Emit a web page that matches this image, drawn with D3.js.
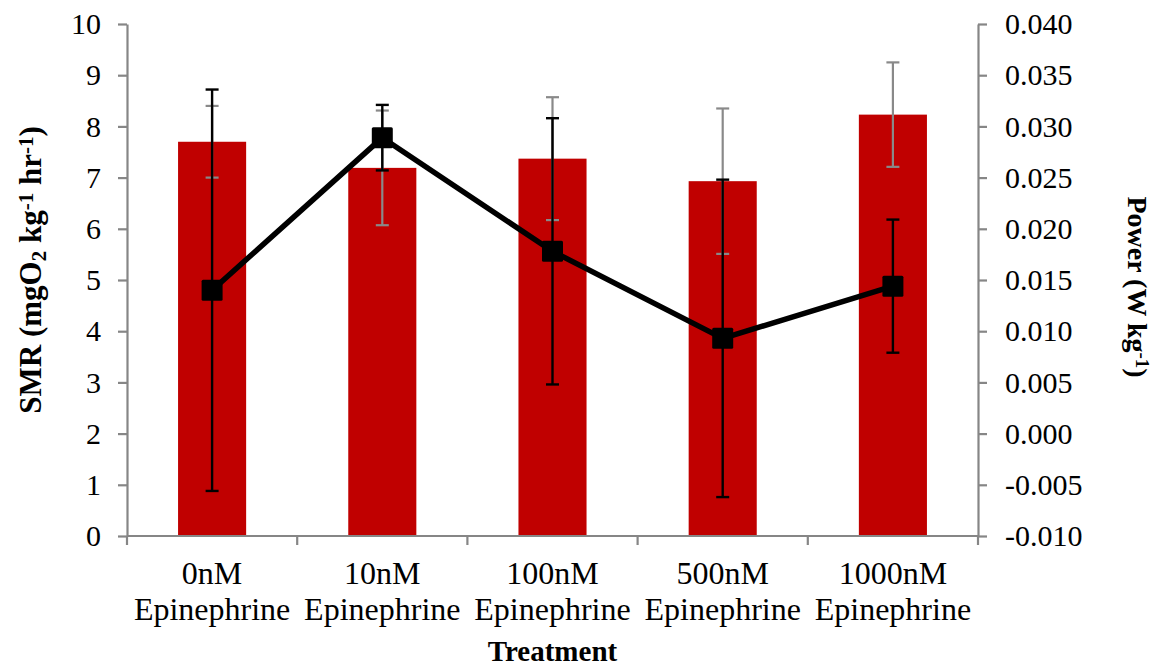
<!DOCTYPE html>
<html>
<head>
<meta charset="utf-8">
<script src="https://cdn.jsdelivr.net/npm/d3@7"></script>
<style>
  body { margin: 0; background: #fff; }
  svg { display: block; font-family: "Liberation Serif", "Times New Roman", serif; }
</style>
</head>
<body>
<div id="chart"></div>
<script>
// Data
const categories = ["0nM Epinephrine", "10nM Epinephrine", "100nM Epinephrine", "500nM Epinephrine", "1000nM Epinephrine"];
const smr = [7.70, 7.19, 7.37, 6.93, 8.23];
const smrErr = [0.70, 1.12, 1.20, 1.42, 1.02];
const power = [0.0140, 0.0289, 0.0178, 0.0093, 0.0144];
const powerErr = [0.0196, 0.0032, 0.0130, 0.0155, 0.0065];
const leftTicks = [0, 1, 2, 3, 4, 5, 6, 7, 8, 9, 10];
const rightTicks = [-0.010, -0.005, 0.000, 0.005, 0.010, 0.015, 0.020, 0.025, 0.030, 0.035, 0.040];

drawChart();

function drawChart() {
  let W = 1157, H = 666;
  let left = 127, right = 978, top = 24, bottom = 536;

  let axisColor = "#868686";
  let barColor = "#c00000";

  let svg = d3.select("#chart").append("svg")
    .attr("width", W)
    .attr("height", H);

  // Scales
  let x = d3.scaleBand().domain(categories).range([left, right]).padding(0);
  let yL = d3.scaleLinear().domain([0, 10]).range([bottom, top]);
  let yR = d3.scaleLinear().domain([-0.010, 0.040]).range([bottom, top]);
  let barW = x.bandwidth() / 2.5;
  let cx = function (c) { return x(c) + x.bandwidth() / 2; };

  // Bars
  svg.selectAll(".bar")
    .data(categories)
    .enter()
    .append("rect")
    .attr("x", function (d) { return cx(d) - barW / 2; })
    .attr("y", function (d, i) { return yL(smr[i]); })
    .attr("width", barW)
    .attr("height", function (d, i) { return bottom - yL(smr[i]); })
    .attr("fill", barColor);

  // Error bars (bars, gray)
  drawErr(categories.map(function (c, i) {
    return { x: cx(c), hi: yL(smr[i] + smrErr[i]), lo: yL(smr[i] - smrErr[i]) };
  }), "#898989", 2.2);

  // Left axis
  svg.append("g")
    .attr("transform", "translate(" + left + ",0)")
    .call(d3.axisLeft(yL).tickValues(leftTicks).tickSize(9).tickSizeOuter(0).tickPadding(17)
      .tickFormat(function (d) { return String(d); }))
    .call(styleAxis);

  // Right axis
  svg.append("g")
    .attr("transform", "translate(" + right + ",0)")
    .call(d3.axisRight(yR).tickValues(rightTicks).tickSize(9).tickSizeOuter(0).tickPadding(18)
      .tickFormat(function (d) { return (Math.abs(d) < 1e-9 ? 0 : d).toFixed(3); }))
    .call(styleAxis);

  // Bottom axis with ticks on category boundaries
  svg.append("line")
    .attr("x1", left).attr("x2", right)
    .attr("y1", bottom).attr("y2", bottom)
    .attr("stroke", axisColor).attr("stroke-width", 2.2);
  let bounds = categories.map(function (c) { return x(c); }).concat([x.range()[1]]);
  svg.selectAll(".xtick")
    .data(bounds)
    .enter()
    .append("line")
    .attr("x1", function (d) { return d; }).attr("x2", function (d) { return d; })
    .attr("y1", bottom).attr("y2", bottom + 9)
    .attr("stroke", axisColor).attr("stroke-width", 2.2);

  let labels = svg.selectAll(".xlab")
    .data(categories)
    .enter()
    .append("text")
    .attr("text-anchor", "middle")
    .style("font-size", "32px")
    .style("fill", "#000");
  labels.append("tspan")
    .attr("x", function (d) { return cx(d); })
    .attr("y", 584)
    .text(function (d) { return d.split(" ")[0]; });
  labels.append("tspan")
    .attr("x", function (d) { return cx(d); })
    .attr("y", 620)
    .text(function (d) { return d.split(" ")[1]; });

  // Power line
  let line = d3.line()
    .x(function (d, i) { return cx(categories[i]); })
    .y(function (d) { return yR(d); });
  svg.append("path")
    .datum(power)
    .attr("d", line)
    .attr("fill", "none")
    .attr("stroke", "#000")
    .attr("stroke-width", 5.5)
    .attr("stroke-linejoin", "round");

  // Error bars (line, black)
  drawErr(categories.map(function (c, i) {
    return { x: cx(c), hi: yR(power[i] + powerErr[i]), lo: yR(power[i] - powerErr[i]) };
  }), "#000", 2.4);

  // Markers
  let ms = 21;
  svg.selectAll(".marker")
    .data(power)
    .enter()
    .append("rect")
    .attr("x", function (d, i) { return cx(categories[i]) - ms / 2; })
    .attr("y", function (d) { return yR(d) - ms / 2; })
    .attr("width", ms)
    .attr("height", ms)
    .attr("rx", 1.5)
    .attr("fill", "#000");

  // Axis titles
  let lt = svg.append("text")
    .attr("transform", "translate(41," + 270 + ") rotate(-90)")
    .attr("text-anchor", "middle")
    .style("font-size", "31px")
    .style("font-weight", "700");
  lt.append("tspan").text("SMR (mgO");
  lt.append("tspan").attr("baseline-shift", "-25%").style("font-size", "21px").text("2");
  lt.append("tspan").text(" kg");
  lt.append("tspan").attr("baseline-shift", "40%").style("font-size", "21px").text("-1");
  lt.append("tspan").text(" hr");
  lt.append("tspan").attr("baseline-shift", "40%").style("font-size", "21px").text("-1");
  lt.append("tspan").text(")");

  let rt = svg.append("text")
    .attr("transform", "translate(1128," + 287 + ") rotate(90)")
    .attr("text-anchor", "middle")
    .style("font-size", "28px")
    .style("font-weight", "700");
  rt.append("tspan").text("Power (W kg");
  rt.append("tspan").attr("baseline-shift", "40%").style("font-size", "19px").text("-1");
  rt.append("tspan").text(")");

  svg.append("text")
    .attr("x", (left + right) / 2)
    .attr("y", 661)
    .attr("text-anchor", "middle")
    .style("font-size", "29px")
    .style("font-weight", "700")
    .text("Treatment");

  function styleAxis(g) {
    g.select(".domain").attr("stroke", axisColor).attr("stroke-width", 2.2);
    g.selectAll(".tick line").attr("stroke", axisColor).attr("stroke-width", 2.2);
    g.selectAll(".tick text")
      .style("font-size", "30px")
      .style("font-family", "'Liberation Serif', serif")
      .style("fill", "#000");
  }

  function drawErr(data, color, sw) {
    let cap = 13;
    let g = svg.append("g").attr("stroke", color).attr("stroke-width", sw);
    g.selectAll(".v").data(data).enter().append("line")
      .attr("x1", function (d) { return d.x; }).attr("x2", function (d) { return d.x; })
      .attr("y1", function (d) { return d.hi; }).attr("y2", function (d) { return d.lo; });
    g.selectAll(".t").data(data).enter().append("line")
      .attr("x1", function (d) { return d.x - cap / 2; }).attr("x2", function (d) { return d.x + cap / 2; })
      .attr("y1", function (d) { return d.hi; }).attr("y2", function (d) { return d.hi; });
    g.selectAll(".b").data(data).enter().append("line")
      .attr("x1", function (d) { return d.x - cap / 2; }).attr("x2", function (d) { return d.x + cap / 2; })
      .attr("y1", function (d) { return d.lo; }).attr("y2", function (d) { return d.lo; });
  }
}
</script>
</body>
</html>
